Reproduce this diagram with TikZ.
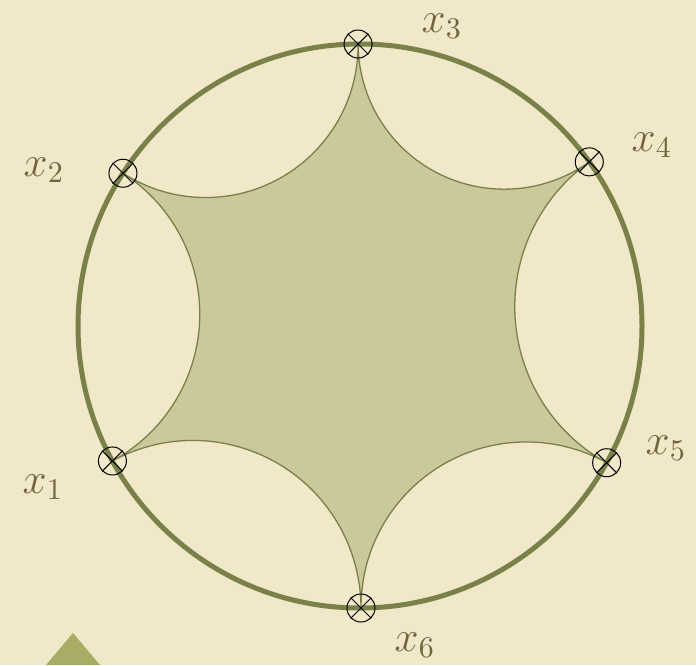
\documentclass[tikz,border=0pt]{standalone}
\usepackage{tikz}
\definecolor{bg}{RGB}{241,231,201}
\definecolor{olive}{RGB}{122,129,72}
\definecolor{hexfill}{RGB}{203,201,155}
\definecolor{labelcol}{RGB}{112,102,62}
\definecolor{tri}{RGB}{168,172,100}
\begin{document}
\begin{tikzpicture}[x=1pt,y=1pt,
  marker/.style={circle,draw=black,line width=1pt,inner sep=0pt,minimum size=28pt},
  crossline/.style={draw=black,line width=1pt},
  lab/.style={text=labelcol,font=\Large,scale=3.0,inner sep=0pt}]
\useasboundingbox (0,0) rectangle (696,-665);
\fill[bg] (0,0) rectangle (696,-665);
\coordinate (O) at (360,-326);
\coordinate (p1) at ([shift={(208.6:282)}]O);
\coordinate (p2) at ([shift={(147.2:282)}]O);
\coordinate (p3) at ([shift={(90.4:282)}]O);
\coordinate (p4) at ([shift={(35.6:282)}]O);
\coordinate (p5) at ([shift={(331:282)}]O);
\coordinate (p6) at ([shift={(270.2:282)}]O);
% corner triangle
\fill[tri] (73,-633) -- (100,-665) -- (46,-665) -- cycle;
% main circle
\draw[olive,line width=5pt] (O) circle[radius=282];
% ideal hexagon
\filldraw[fill=hexfill,draw=olive,line width=1.3pt] (p5)
  arc[start angle=601, end angle=485.6, radius={282*tan(32.3)}]
  arc[start angle=305.6, end angle=180.4, radius={282*tan(27.4)}]
  arc[start angle=360.4, end angle=237.2, radius={282*tan(28.4)}]
  arc[start angle=417.2, end angle=298.6, radius={282*tan(30.7)}]
  arc[start angle=478.6, end angle=360.2, radius={282*tan(30.8)}]
  arc[start angle=540.2, end angle=421, radius={282*tan(30.4)}]
  -- cycle;
% markers
\foreach \i in {1,...,6}{
  \node[marker] (m\i) at (p\i) {};
  \draw[crossline] (m\i.45) -- (m\i.225);
  \draw[crossline] (m\i.135) -- (m\i.315);
}
% labels
\node[lab] (l1) at (43,-487) {$x_1$};
\node[lab] (l2) at (44,-170) {$x_2$};
\node[lab] (l3) at (442,-26) {$x_3$};
\node[lab] (l4) at (652,-145) {$x_4$};
\node[lab] (l5) at (666,-448) {$x_5$};
\node[lab] (l6) at (415,-645) {$x_6$};
\end{tikzpicture}
\end{document}
